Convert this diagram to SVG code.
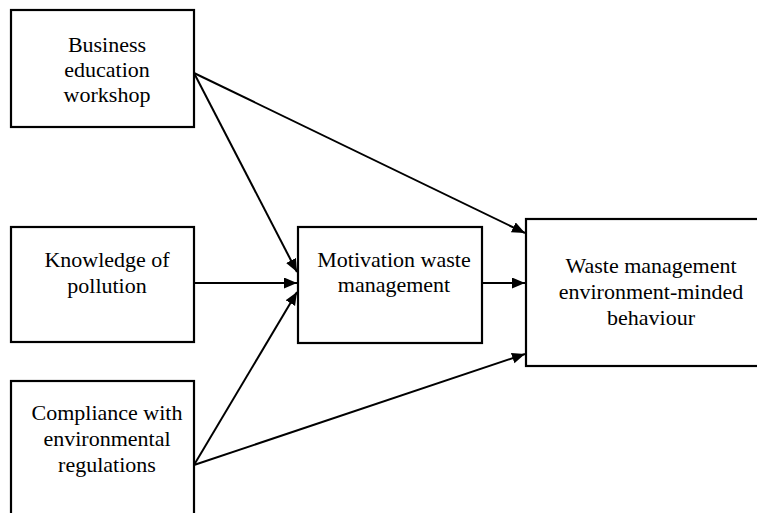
<svg xmlns="http://www.w3.org/2000/svg" width="757" height="513" viewBox="0 0 757 513">
<style>
.box{fill:#fff;stroke:#000;stroke-width:2.2}
.t{font-family:"Liberation Serif","Times New Roman",serif;font-size:22px;fill:#000;text-anchor:middle}
.c{stroke:#000;stroke-width:2;fill:none;marker-end:url(#ah)}
</style>
<defs>
<marker id="ah" markerUnits="userSpaceOnUse" markerWidth="14" markerHeight="12" refX="13" refY="5.5" orient="auto">
<path d="M0,0 L13,5.5 L0,11 z" fill="#000"/>
</marker>
</defs>
<rect width="757" height="513" fill="#fff"/>
<g id="n1">
<rect class="box" x="11" y="10" width="183" height="117"/>
<text class="t" x="107" y="52">Business</text>
<text class="t" x="107" y="77">education</text>
<text class="t" x="107" y="102">workshop</text>
</g>
<g id="n2">
<rect class="box" x="11" y="227" width="183" height="115"/>
<text class="t" x="107" y="267">Knowledge of</text>
<text class="t" x="107" y="293">pollution</text>
</g>
<g id="n3">
<rect class="box" x="11" y="381" width="183" height="150"/>
<text class="t" x="107" y="420">Compliance with</text>
<text class="t" x="107" y="446">environmental</text>
<text class="t" x="107" y="472">regulations</text>
</g>
<g id="n4">
<rect class="box" x="298" y="227" width="184" height="116"/>
<text class="t" x="394" y="267">Motivation waste</text>
<text class="t" x="394" y="292">management</text>
</g>
<g id="n5">
<rect class="box" x="526" y="219" width="250" height="147"/>
<text class="t" x="651" y="273">Waste management</text>
<text class="t" x="651" y="299">environment-minded</text>
<text class="t" x="651" y="325">behaviour</text>
</g>
<g id="connectors">
<line class="c" x1="194" y1="73" x2="525" y2="233"/>
<line class="c" x1="194" y1="73" x2="297" y2="272"/>
<line class="c" x1="194" y1="283" x2="297" y2="283"/>
<line class="c" x1="194" y1="465" x2="297" y2="292"/>
<line class="c" x1="194" y1="465" x2="525" y2="354"/>
<line class="c" x1="482" y1="283" x2="525" y2="283"/>
</g>
</svg>
